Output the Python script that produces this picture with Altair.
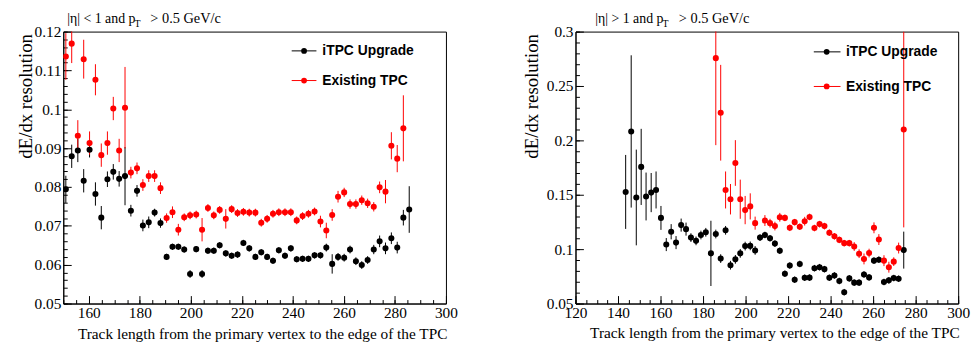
import altair as alt
import pandas as pd

# ---------------- data ----------------
series_names = ["iTPC Upgrade", "Existing TPC"]
series_colors = ["#000000", "#ff0000"]

x_title = "Track length from the primary vertex to the edge of the TPC"
y_title = "dE/dx resolution"
left_title = ["|η| < 1 and p", "T", "> 0.5 GeV/c"]
right_title = ["|η| > 1 and p", "T", "> 0.5 GeV/c"]

# left panel (|eta| < 1)
left_x = [151.0, 153.3, 155.7, 158.0, 160.3, 162.6, 164.9, 167.3, 169.6, 171.9,
          174.2, 176.5, 178.9, 181.2, 183.5, 185.8, 188.1, 190.5, 192.8, 195.1,
          197.4, 199.7, 202.1, 204.4, 206.7, 209.0, 211.3, 213.7, 216.0, 218.3,
          220.6, 222.9, 225.3, 227.6, 229.9, 232.2, 234.5, 236.9, 239.2, 241.5,
          243.8, 246.1, 248.5, 250.8, 253.1, 255.4, 257.7, 260.1, 262.4, 264.7,
          267.0, 269.3, 271.7, 274.0, 276.3, 278.6, 280.9, 283.3, 285.6]
left_itpc = [0.0794, 0.0879, 0.0894, 0.0816, 0.0896, 0.0782, 0.0721, 0.0820, 0.0839, 0.0821,
             0.0828, 0.0739, 0.0790, 0.0701, 0.0709, 0.0734, 0.0707, 0.0620, 0.0646, 0.0646,
             0.0639, 0.0576, 0.0640, 0.0576, 0.0636, 0.0636, 0.0650, 0.0629, 0.0623, 0.0626,
             0.0656, 0.0642, 0.0620, 0.0632, 0.0620, 0.0610, 0.0637, 0.0623, 0.0642, 0.0614,
             0.0615, 0.0615, 0.0624, 0.0624, 0.0644, 0.0602, 0.0620, 0.0618, 0.0639, 0.0609,
             0.0599, 0.0612, 0.0639, 0.0660, 0.0642, 0.0668, 0.0644, 0.0721, 0.0742]
left_itpc_err = [0.0035, 0.003, 0.003, 0.003, 0.002, 0.003, 0.003, 0.002, 0.002, 0.002,
                 0.0075, 0.0015, 0.0015, 0.0015, 0.0015, 0.001, 0.0012, 0.0008, 0.0008, 0.0008,
                 0.0008, 0.001, 0.0008, 0.001, 0.0008, 0.0008, 0.0008, 0.0008, 0.0008, 0.0008,
                 0.0008, 0.0008, 0.0008, 0.0008, 0.0008, 0.0008, 0.0008, 0.0008, 0.0008, 0.0008,
                 0.0008, 0.0008, 0.0008, 0.0008, 0.001, 0.0025, 0.001, 0.001, 0.001, 0.001,
                 0.001, 0.001, 0.0012, 0.0015, 0.0015, 0.0015, 0.0015, 0.002, 0.006]
left_tpc_x = left_x[:58]
left_tpc = [0.1136, 0.1169, 0.0932, 0.1129, 0.0913, 0.1076, 0.0882, 0.0913, 0.1002, 0.0894,
            0.1004, 0.0837, 0.0848, 0.0805, 0.0828, 0.0828, 0.0797, 0.0720, 0.0735, 0.0690,
            0.0722, 0.0727, 0.0729, 0.0690, 0.0746, 0.0727, 0.0741, 0.0718, 0.0743, 0.0733,
            0.0736, 0.0734, 0.0734, 0.0708, 0.0718, 0.0731, 0.0735, 0.0735, 0.0735, 0.0714,
            0.0725, 0.0731, 0.0737, 0.0711, 0.0688, 0.0728, 0.0775, 0.0786, 0.0756, 0.0756,
            0.0766, 0.0758, 0.0749, 0.0799, 0.0788, 0.0906, 0.0873, 0.0951]
left_tpc_err = [0.006, 0.005, 0.004, 0.005, 0.003, 0.004, 0.003, 0.003, 0.003, 0.003,
                0.0105, 0.0015, 0.0015, 0.0015, 0.0015, 0.0015, 0.0015, 0.0012, 0.0015, 0.0015,
                0.001, 0.001, 0.001, 0.003, 0.001, 0.001, 0.001, 0.0025, 0.001, 0.001,
                0.001, 0.001, 0.001, 0.001, 0.001, 0.001, 0.001, 0.001, 0.001, 0.001,
                0.001, 0.001, 0.001, 0.0015, 0.002, 0.0015, 0.0015, 0.0012, 0.0012, 0.0012,
                0.0012, 0.0012, 0.0012, 0.0015, 0.003, 0.0035, 0.0035, 0.0085]

# right panel (|eta| > 1)
right_itpc_x = [143.6, 146.2, 148.6, 150.9, 153.2, 155.6, 157.9, 160.2, 162.7, 165.0,
                167.3, 169.7, 172.0, 174.3, 176.7, 179.0, 181.3, 183.7, 186.0, 188.3,
                190.6, 192.9, 195.2, 197.5, 199.8, 202.2, 204.5, 206.8, 209.1, 211.5,
                213.8, 216.1, 218.5, 220.8, 223.1, 225.5, 227.8, 230.1, 232.4, 234.8,
                237.1, 239.4, 241.8, 244.1, 246.4, 248.8, 251.1, 253.4, 255.7, 258.1,
                260.4, 262.7, 265.1, 267.4, 269.7, 272.0, 274.4]
right_itpc = [0.1526, 0.2082, 0.1475, 0.1756, 0.1484, 0.1520, 0.1544, 0.1287, 0.1042, 0.1160,
              0.1060, 0.1221, 0.1184, 0.1106, 0.1076, 0.1130, 0.1155, 0.0961, 0.1139, 0.0913,
              0.1173, 0.0852, 0.0906, 0.0961, 0.1028, 0.1030, 0.0988, 0.1106, 0.1130, 0.1100,
              0.1051, 0.0985, 0.0774, 0.0849, 0.0719, 0.0864, 0.0737, 0.0738, 0.0825, 0.0834,
              0.0816, 0.0737, 0.0758, 0.0707, 0.0604, 0.0731, 0.0692, 0.0692, 0.0767, 0.0740,
              0.0894, 0.0903, 0.0698, 0.0713, 0.0734, 0.0728, 0.0991]
right_itpc_err = [0.034, 0.070, 0.044, 0.035, 0.022, 0.018, 0.017, 0.011, 0.006, 0.007,
                  0.006, 0.006, 0.006, 0.004, 0.004, 0.004, 0.004, 0.030, 0.004, 0.004,
                  0.004, 0.004, 0.004, 0.004, 0.004, 0.004, 0.004, 0.003, 0.003, 0.003,
                  0.003, 0.003, 0.003, 0.003, 0.003, 0.003, 0.003, 0.003, 0.003, 0.003,
                  0.003, 0.003, 0.003, 0.003, 0.003, 0.003, 0.003, 0.003, 0.003, 0.003,
                  0.003, 0.003, 0.003, 0.003, 0.003, 0.003, 0.017]
right_tpc_x = [186.0, 188.3, 190.6, 192.9, 195.2, 197.5, 199.8, 202.2, 204.5, 209.1,
               211.5, 213.8, 216.1, 218.5, 220.8, 223.1, 225.5, 227.8, 230.1, 232.4,
               234.8, 237.1, 239.4, 241.8, 244.1, 246.4, 248.8, 251.1, 253.4, 255.7,
               258.1, 260.4, 262.7, 265.1, 267.4, 269.7, 272.0, 274.4]
right_tpc = [0.2756, 0.2254, 0.1544, 0.1459, 0.1792, 0.1459, 0.1359, 0.1393, 0.1239, 0.1263,
             0.1239, 0.1212, 0.1293, 0.1287, 0.1196, 0.1248, 0.1206, 0.1257, 0.1296, 0.1194,
             0.1230, 0.1212, 0.1151, 0.1118, 0.1085, 0.1055, 0.1055, 0.1024, 0.0958, 0.0910,
             0.0964, 0.1196, 0.1088, 0.0894, 0.0834, 0.0885, 0.1010, 0.2100]
right_tpc_err = [0.080, 0.044, 0.017, 0.014, 0.021, 0.018, 0.013, 0.012, 0.006, 0.005,
                 0.004, 0.004, 0.004, 0.003, 0.003, 0.003, 0.003, 0.004, 0.003, 0.003,
                 0.003, 0.003, 0.003, 0.003, 0.003, 0.003, 0.003, 0.004, 0.004, 0.005,
                 0.004, 0.005, 0.005, 0.005, 0.005, 0.004, 0.005, 0.090]

# axis tick positions
left_x_major = [160, 180, 200, 220, 240, 260, 280, 300]
left_x_minor = list(range(150, 301, 5))
left_y_major = [0.05, 0.06, 0.07, 0.08, 0.09, 0.1, 0.11, 0.12]
left_y_minor = [round(0.05 + 0.002 * i, 3) for i in range(36)]
right_x_major = [120, 140, 160, 180, 200, 220, 240, 260, 280, 300]
right_x_minor = list(range(120, 301, 5))
right_y_major = [0.05, 0.1, 0.15, 0.2, 0.25, 0.3]
right_y_minor = [round(0.05 + 0.01 * i, 2) for i in range(26)]

SERIF = "Liberation Serif"
SANS = "Liberation Sans"
W, H = 387, 275


def build_df(x, y, e, name):
    return pd.DataFrame({
        "x": x, "y": y,
        "lo": [a - b for a, b in zip(y, e)],
        "hi": [a + b for a, b in zip(y, e)],
        "series": name,
    })


def panel(df, xdom, xmaj, xmin, ydom, ymaj, ymin, title_parts, tpos,
          ytitle_x, xtitle_y, leg):
    base = alt.Chart(df)
    xs = alt.Scale(domain=xdom, nice=False, zero=False)
    ys = alt.Scale(domain=ydom, nice=False, zero=False)
    cscale = alt.Scale(domain=series_names, range=series_colors)

    common = dict(grid=False, domainColor="black", tickColor="black",
                  labelColor="black", titleColor="black", labelFont=SERIF,
                  labelFontSize=15.5, labelOverlap=False, labelFlush=False,
                  titleFont=SERIF, titleFontWeight="normal")
    x_major = alt.Axis(orient="bottom", values=xmaj, format="d",
                       tickSize={"expr": "-8"}, labelPadding=10.5,
                       title=x_title, titleFontSize=15.5, titleAlign="right",
                       titleBaseline="alphabetic", titleX=W + 1, titleY=xtitle_y,
                       **common)
    y_major = alt.Axis(orient="left", values=ymaj, format=".2~f",
                       tickSize={"expr": "-8"}, labelPadding=10.5,
                       title=y_title, titleFontSize=19, titleAngle=270,
                       titleAlign="right", titleBaseline="alphabetic",
                       titleX=ytitle_x, titleY=2, **common)
    x_minor = alt.Axis(orient="bottom", values=xmin, labels=False, domain=False,
                       tickSize={"expr": "-4"}, tickColor="black", grid=False,
                       title=None)
    y_minor = alt.Axis(orient="left", values=ymin, labels=False, domain=False,
                       tickSize={"expr": "-4"}, tickColor="black", grid=False,
                       title=None)

    err = base.mark_rule(strokeWidth=1, clip=True).encode(
        x=alt.X("x:Q", scale=xs, axis=None),
        y=alt.Y("lo:Q", scale=ys, axis=None),
        y2="hi:Q",
        color=alt.Color("series:N", scale=cscale, legend=None),
    )
    pts = base.mark_circle(size=38, opacity=1, clip=True).encode(
        x=alt.X("x:Q", scale=xs, axis=x_major),
        y=alt.Y("y:Q", scale=ys, axis=y_major),
        color=alt.Color("series:N", scale=cscale, legend=None),
    )
    minor = base.mark_point(opacity=0).encode(
        x=alt.X("x:Q", scale=xs, axis=x_minor),
        y=alt.Y("y:Q", scale=ys, axis=y_minor),
    )
    t_main = alt.Chart(pd.DataFrame({"t": [title_parts[0]]})).mark_text(
        align="left", baseline="alphabetic", font=SERIF, fontSize=14, color="black"
    ).encode(x=alt.value(tpos[0]), y=alt.value(-9), text="t:N")
    t_sub = alt.Chart(pd.DataFrame({"t": [title_parts[1]]})).mark_text(
        align="left", baseline="alphabetic", font=SERIF, fontSize=10, color="black"
    ).encode(x=alt.value(tpos[1]), y=alt.value(-5), text="t:N")
    t_rest = alt.Chart(pd.DataFrame({"t": [title_parts[2]]})).mark_text(
        align="left", baseline="alphabetic", font=SERIF, fontSize=14.5, color="black"
    ).encode(x=alt.value(tpos[2]), y=alt.value(-9), text="t:N")

    # legend (line + marker + label), colours through the series colour scale
    lx0, ldot, lx1, ltx, rows = leg
    leg_layers = []
    for name, ry in zip(series_names, rows):
        ldf = alt.Chart(pd.DataFrame({"label": [name]}))
        col = alt.Color("label:N", scale=cscale, legend=None)
        leg_layers.append(ldf.mark_rule(strokeWidth=1).encode(
            x=alt.value(lx0), x2=alt.value(lx1), y=alt.value(ry), color=col))
        leg_layers.append(ldf.mark_circle(size=34, opacity=1).encode(
            x=alt.value(ldot), y=alt.value(ry), color=col))
        leg_layers.append(ldf.mark_text(
            align="left", baseline="middle", font=SANS, fontWeight="bold",
            fontSize=14, color="black").encode(
            x=alt.value(ltx), y=alt.value(ry + 0.5), text="label:N"))

    return alt.layer(err, pts, minor, t_main, t_sub, t_rest, *leg_layers).resolve_axis(
        x="independent", y="independent"
    ).properties(width=W, height=H)


df_left = pd.concat([
    build_df(left_x, left_itpc, left_itpc_err, series_names[0]),
    build_df(left_tpc_x, left_tpc, left_tpc_err, series_names[1]),
], ignore_index=True)
df_right = pd.concat([
    build_df(right_itpc_x, right_itpc, right_itpc_err, series_names[0]),
    build_df(right_tpc_x, right_tpc, right_tpc_err, series_names[1]),
], ignore_index=True)

left = panel(df_left, [150, 300], left_x_major, left_x_minor, [0.05, 0.12],
             left_y_major, left_y_minor, left_title, (4, 72, 88),
             -32.5, 35, (231, 243.5, 256, 262, (19.5, 49.5)))
right = panel(df_right, [120, 300], right_x_major, right_x_minor, [0.05, 0.3],
              right_y_major, right_y_minor, right_title, (20, 88, 104.5),
              -38, 34, (241, 254, 268, 273.5, (20.5, 55.5)))

chart = alt.hconcat(left, right, spacing=64).resolve_scale(
    x="independent", y="independent", color="independent"
).properties(
    padding={"left": 16, "top": 8, "right": 2, "bottom": 2},
    background="white",
).configure_view(stroke="black", strokeWidth=1)

chart.save("out.html", embed_options={"renderer": "svg", "actions": False})
